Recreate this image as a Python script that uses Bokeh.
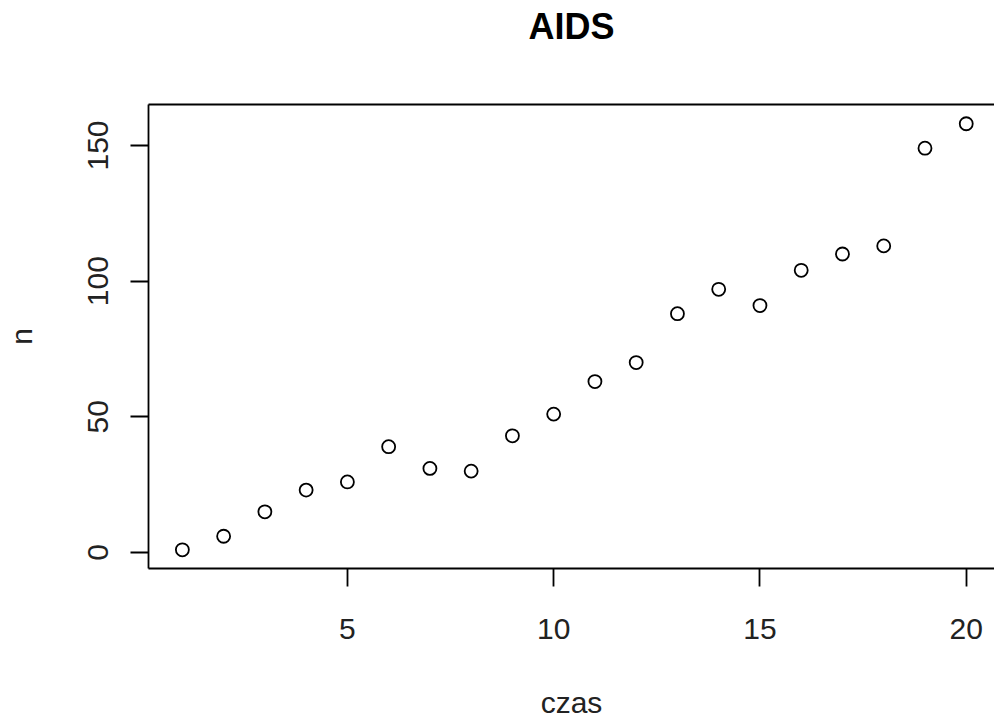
from bokeh.plotting import figure
from bokeh.models import FixedTicker, LinearAxis, Range1d
from bokeh.embed import file_html
from bokeh.resources import INLINE

czas = list(range(1, 21))
n = [1, 6, 15, 23, 26, 39, 31, 30, 43, 51, 63, 70, 88, 97, 91, 104, 110, 113, 149, 158]
x_ticks = [5, 10, 15, 20]
y_ticks = [0, 50, 100, 150]
title_text = "AIDS"
xlab = "czas"
ylab = "n"

FONT = "Liberation Sans"

p = figure(width=994, height=722, output_backend="svg", toolbar_location=None,
           x_range=Range1d(0.179, 20.685), y_range=Range1d(-5.89, 165.1),
           min_border_left=148, min_border_right=0, min_border_top=104,
           min_border_bottom=154, background_fill_color="white",
           border_fill_color="white")
p.outline_line_color = None
p.grid.visible = False

p.scatter(czas, n, marker="circle", size=13, fill_color=None,
          line_color="black", line_width=1.8)

for ax in [p.xaxis[0], p.yaxis[0]]:
    ax.axis_line_color = "black"
    ax.axis_line_width = 1.8
    ax.major_tick_line_color = "black"
    ax.major_tick_line_width = 1.8
    ax.major_tick_in = 0
    ax.major_tick_out = 18
    ax.minor_tick_line_color = None
    ax.major_label_text_font = FONT
    ax.major_label_text_font_size = "30px"
    ax.major_label_text_color = "#222222"
    ax.axis_label_text_font = FONT
    ax.axis_label_text_font_size = "30px"
    ax.axis_label_text_font_style = "normal"
    ax.axis_label_text_color = "#222222"

p.xaxis[0].ticker = FixedTicker(ticks=x_ticks)
p.yaxis[0].ticker = FixedTicker(ticks=y_ticks)
p.xaxis[0].major_label_standoff = 32
p.yaxis[0].major_label_standoff = 22
p.yaxis[0].major_label_orientation = "vertical"
p.xaxis[0].axis_label = xlab
p.yaxis[0].axis_label = ylab
p.xaxis[0].axis_label_standoff = 44
p.yaxis[0].axis_label_standoff = 48

# top border line, carrying the chart title as its label
top = LinearAxis(ticker=FixedTicker(ticks=[]), major_label_text_font_size="0px",
                 axis_line_color="black", axis_line_width=1.8,
                 major_tick_line_color=None, minor_tick_line_color=None,
                 axis_label=title_text, axis_label_text_font=FONT,
                 axis_label_text_font_size="36px", axis_label_text_font_style="bold",
                 axis_label_text_color="black", axis_label_standoff=58)
p.add_layout(top, "above")

open("out.html", "w").write(file_html(p, INLINE))
